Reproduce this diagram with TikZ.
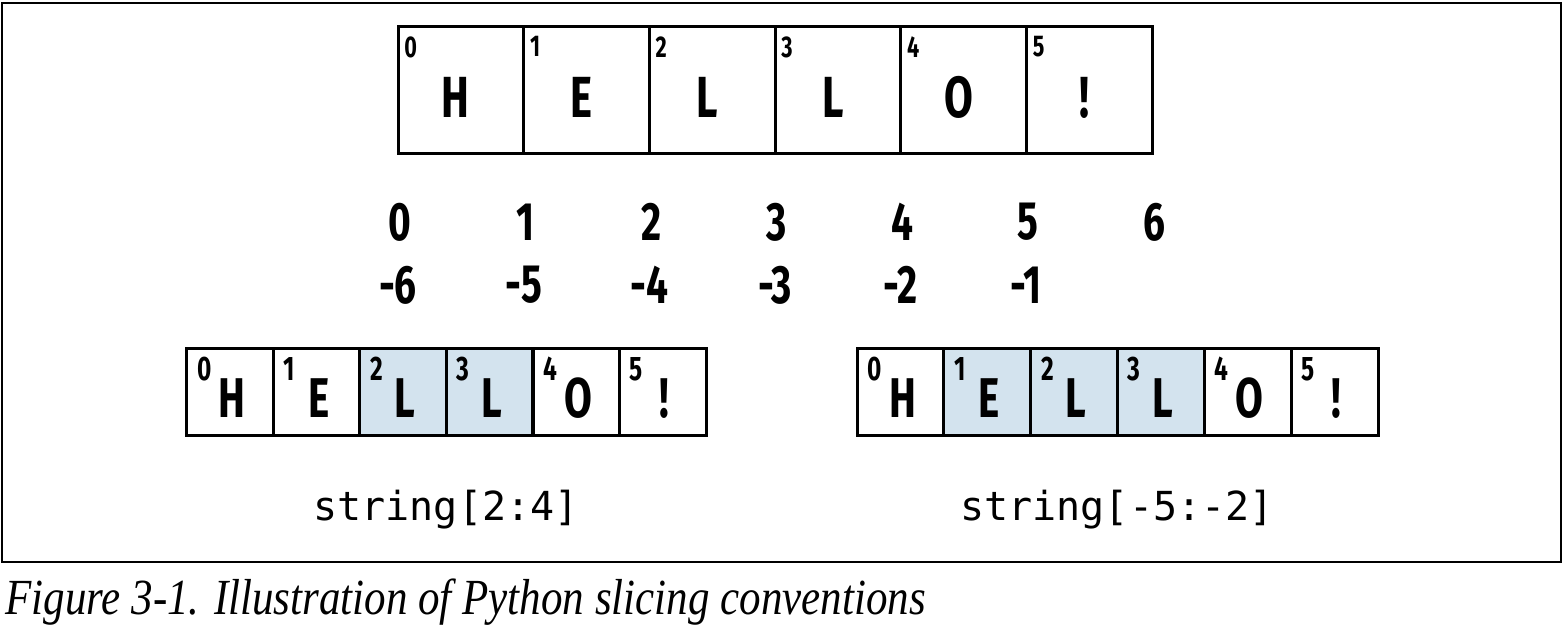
\documentclass[tikz,border=0pt]{standalone}
\usepackage{fontspec}
\setmainfont{Liberation Serif}
\setmonofont{DejaVu Sans Mono}
\newfontfamily\condfont[FakeStretch=0.72]{Fira Sans}
\newfontfamily\capfont[FakeStretch=0.85]{Liberation Serif}
\usetikzlibrary{positioning}
\definecolor{slicefill}{HTML}{D3E3EE}

\begin{document}
\begin{tikzpicture}[x=0.5pt,y=-0.5pt,
	cell/.style={
		draw,line width=1.5pt,inner sep=0pt,outer sep=0pt
	},
	topcell/.style={
		cell,minimum width=62.83pt,minimum height=63.5pt
	},
	lowcell/.style={
		cell,minimum width=43.3pt,minimum height=43.5pt
	},
	picked/.style={
		fill=slicefill
	},
	letter/.style={
		font=\condfont\bfseries\fontsize{29}{29}\selectfont,inner sep=0pt
	},
	tinyidx/.style={
		font=\condfont\bfseries\fontsize{15}{15}\selectfont,inner sep=0pt,anchor=north west
	},
	smallidx/.style={
		font=\condfont\bfseries\fontsize{17}{17}\selectfont,inner sep=0pt,anchor=north west
	},
	posnum/.style={
		font=\condfont\bfseries\fontsize{27}{27}\selectfont,inner sep=0pt
	},
	slicecode/.style={
		font=\ttfamily\fontsize{20}{20}\selectfont,inner sep=0pt
	}
	]
	\useasboundingbox (0,0) rectangle (1564,630);
	\draw[line width=0.75pt] (2,3) rectangle (1561,562);
	% top string
	\foreach \i/\c in {0/H,1/E,2/L,3/L,4/O,5/!}{
		\node[topcell] (top\i) at (398+62.83+125.67*\i,90.5) {};
		\node[tinyidx] (topidx\i) at ([xshift=3pt,yshift=-4.5pt]top\i.north west) {\i};
		\node[letter] (topchr\i) at ([xshift=-2.5pt,yshift=-3.5pt]top\i.center) {\c};
	}
	% positions
	\foreach \i in {0,...,6}{
		\node[posnum] (pos\i) at (400+125.67*\i,222) {\i};
	}
	\foreach \i/\n in {0/-6,1/-5,2/-4,3/-3,4/-2,5/-1}{
		\node[posnum] (neg\i) at (398+125.67*\i,285) {\n};
	}
	% slice [2:4]
	\begin{scope}
	\foreach \i/\c/\s in {0/H/,1/E/,2/L/picked,3/L/picked,4/O/,5/!/}{
		\node[lowcell,\s] (left\i) at (187+43.25+86.5*\i,392.5) {};
		\node[smallidx] (leftidx\i) at ([xshift=5pt,yshift=-4pt]left\i.north west) {\i};
		\node[letter,font=\condfont\bfseries\fontsize{28}{28}\selectfont] (leftchr\i) at ([xshift=1pt,yshift=-3pt]left\i.center) {\c};
	}
	\node[slicecode] (leftcode) at (446,510) {string[2:4]};
	\end{scope}
	% slice [-5:-2]
	\begin{scope}
	\foreach \i/\c/\s in {0/H/,1/E/picked,2/L/picked,3/L/picked,4/O/,5/!/}{
		\node[lowcell,\s,minimum width=43.42pt] (right\i) at (857+43.42+86.83*\i,392.5) {};
		\node[smallidx] (rightidx\i) at ([xshift=5pt,yshift=-4pt]right\i.north west) {\i};
		\node[letter,font=\condfont\bfseries\fontsize{28}{28}\selectfont] (rightchr\i) at ([xshift=1pt,yshift=-3pt]right\i.center) {\c};
	}
	\node[slicecode] (rightcode) at (1117,510) {string[-5:-2]};
	\end{scope}
	% caption
	\node[anchor=west,inner sep=0pt,font=\capfont\itshape\fontsize{25.3}{25.3}\selectfont] (caption) at (5,602) {Figure 3-1. Illustration of Python slicing conventions};
\end{tikzpicture}
\end{document}
